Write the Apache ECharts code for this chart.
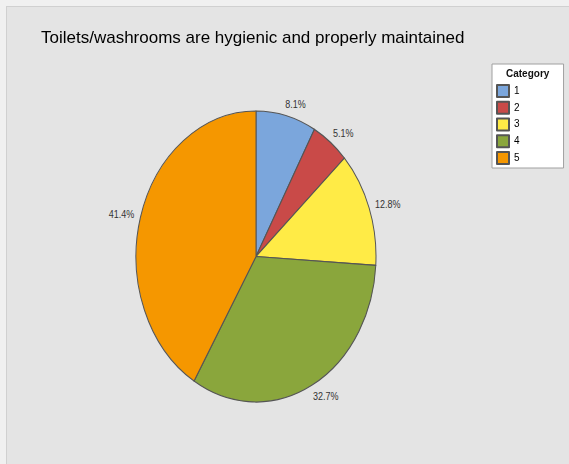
<!DOCTYPE html>
<html>
<head>
<meta charset="utf-8">
<script src="https://cdn.jsdelivr.net/npm/echarts@6/dist/echarts.min.js"></script>
<style>
  html, body { margin: 0; padding: 0; width: 569px; height: 464px; overflow: hidden; background: #f0f0f0; }
  #frame { position: absolute; left: 6px; top: 6px; width: 563px; height: 458px; background: #e4e4e4;
           border-left: 1px solid #d0d0d0; border-top: 1px solid #d0d0d0; }
  #pie { position: absolute; left: 0; top: 0; width: 569px; height: 464px;
         transform-origin: 0 256.5px; transform: scaleY(1.2125); }
  #over { position: absolute; left: 0; top: 0; width: 569px; height: 464px; }
</style>
</head>
<body>
<div id="frame"></div>
<div id="pie"></div>
<div id="over"></div>
<script>
const chartTitle = 'Toilets/washrooms are hygienic and properly maintained';
const legendTitle = 'Category';
const categories = ['1', '2', '3', '4', '5'];
const values = [8.1, 5.1, 12.8, 32.7, 41.4];
const colors = ['#7BA6DC', '#C94A48', '#FFEB46', '#8AA63C', '#F59700'];

const pieData = categories.map((c, i) => ({ name: c, value: values[i] }));

// Pie (drawn as a circle, stretched vertically like the original's elliptical pie)
const pieChart = echarts.init(document.getElementById('pie'), null, { renderer: 'svg' });
pieChart.setOption({
  animation: false,
  backgroundColor: 'transparent',
  color: colors,
  series: [{
    type: 'pie',
    center: [256, 256.5],
    radius: 120,
    startAngle: 90,
    clockwise: true,
    avoidLabelOverlap: false,
    silent: true,
    data: pieData,
    itemStyle: { borderColor: '#555555', borderWidth: 1 },
    label: {
      show: true,
      position: 'outside',
      formatter: '{c}%',
      fontFamily: 'Liberation Sans',
      fontSize: 9,
      color: '#333333',
      distanceToLabelLine: -3.5
    },
    labelLine: { show: false, length: 10, length2: 0 },
    emphasis: { disabled: true }
  }]
});

// Title and legend overlay
const overChart = echarts.init(document.getElementById('over'));
overChart.setOption({
  animation: false,
  backgroundColor: 'transparent',
  color: colors,
  title: [
    {
      text: chartTitle,
      left: 41, top: 30, padding: 0,
      textStyle: { fontFamily: 'Liberation Sans', fontSize: 17, fontWeight: 'normal', color: '#000000' }
    },
    {
      text: legendTitle,
      left: 506, top: 69, padding: 0, z: 10,
      textStyle: { fontFamily: 'Liberation Sans', fontSize: 10, fontWeight: 'bold', color: '#111111' }
    }
  ],
  legend: {
    orient: 'vertical',
    left: 492, top: 64,
    data: categories,
    icon: 'rect',
    itemWidth: 12, itemHeight: 12, itemGap: 2.75,
    padding: [20, 44, 3, 4],
    backgroundColor: '#ffffff',
    borderColor: '#a0a0a0',
    borderWidth: 1,
    selectedMode: false,
    textStyle: { fontFamily: 'Liberation Sans', fontSize: 10, color: '#000000' }
  },
  series: [{
    type: 'pie',
    center: [-500, -500],
    radius: 1,
    silent: true,
    data: pieData,
    itemStyle: { borderColor: '#555555', borderWidth: 1 },
    label: { show: false },
    labelLine: { show: false }
  }]
});
</script>
</body>
</html>
